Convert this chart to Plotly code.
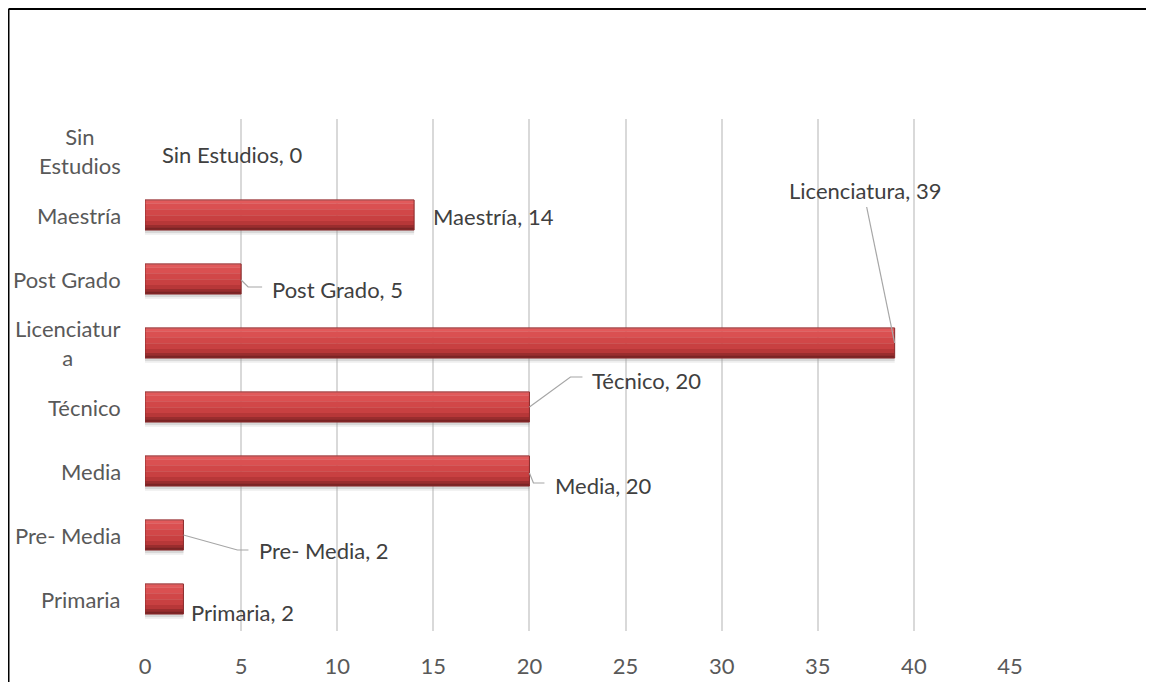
import plotly.graph_objects as go

categories = ["Primaria", "Pre- Media", "Media", "Técnico", "Licenciatura",
              "Post Grado", "Maestría", "Sin Estudios"]
tick_labels = ["Primaria", "Pre- Media", "Media", "Técnico", "Licenciatur<br>a",
               "Post Grado", "Maestría", "Sin<br>Estudios"]
values = [2, 2, 20, 20, 39, 5, 14, 0]

# label placement (pixel offsets from bar end / category centre)
label_dx = [6, 74, 24, 61, -30, 29, 17, 15]
label_dy = [-13, -15, -14, 27, 153, -10, -1, -3]
label_anchor = ["left", "left", "left", "left", "center", "left", "left", "left"]
leaders = [None,
           "M0,0 L54,-15 L65,-15",
           "M0,-2 L4,-12 L15,-12",
           "M0,0 L41,30 L53,30",
           "M0,0 L-28,136",
           "M0,-1 L7,-8 L21,-8",
           None, None]

W, H = 1154, 682
OFF = 8  # page body margin
L, T = 145 - OFF, 119 - OFF
R = W - (1010 - OFF)
B = H - (631 - OFF)
pw, ph = W - L - R, H - T - B

FONT = "Lato, Carlito, Calibri, sans-serif"
FS = 22
idx = list(range(len(categories)))

fig = go.Figure()
BW = 0.47
line_w = [0 if v == 0 else 1 for v in values]

# soft shadow below the bars
for col, extra in [("rgba(160,160,160,0.18)", 0.075), ("rgba(150,150,150,0.25)", 0.045)]:
    fig.add_trace(go.Bar(
        y=idx, x=values, orientation="h", offset=-BW / 2 - extra, width=BW,
        marker=dict(color=col, line=dict(width=0)),
        hoverinfo="skip", showlegend=False,
    ))

# vertical gradient bands (top fraction, bottom fraction, colour)
bands = [
    (0.00, 0.04, "#EC7677"),
    (0.04, 0.13, "#E25A5B"),
    (0.13, 0.32, "#DA5051"),
    (0.32, 0.52, "#D14748"),
    (0.52, 0.71, "#C84041"),
    (0.71, 0.84, "#B73738"),
    (0.84, 0.93, "#992D2E"),
    (0.93, 1.00, "#7A2425"),
]
for a, b, col in bands:
    fig.add_trace(go.Bar(
        y=idx, x=values, orientation="h",
        offset=BW / 2 - b * BW, width=(b - a) * BW + 0.004,
        marker=dict(color=col, line=dict(width=0)),
        hoverinfo="skip", showlegend=False,
    ))

# outline
fig.add_trace(go.Bar(
    y=idx, x=values, orientation="h", offset=-BW / 2, width=BW,
    marker=dict(color="rgba(0,0,0,0)", line=dict(color="#8A2A2B", width=line_w)),
    hoverinfo="skip", showlegend=False,
))

annotations = []
for i, (cat, v) in enumerate(zip(categories, values)):
    annotations.append(dict(
        x=v, y=i, xref="x", yref="y", text=f"{cat}, {v}", showarrow=False,
        xanchor=label_anchor[i], yanchor="middle",
        xshift=label_dx[i], yshift=label_dy[i],
        font=dict(family=FONT, size=FS, color="#404040"),
    ))
    annotations.append(dict(
        x=0, y=i, xref="paper", yref="y", text=tick_labels[i], showarrow=False,
        xanchor="right", yanchor="middle", align="center", xshift=-22,
        font=dict(family=FONT, size=FS, color="#595959"),
    ))

shapes = []
for i, (v, p) in enumerate(zip(values, leaders)):
    if p:
        shapes.append(dict(
            type="path", xref="x", yref="y", xsizemode="pixel", ysizemode="pixel",
            xanchor=v, yanchor=i, path=p,
            line=dict(color="#A6A6A6", width=1.2), layer="above",
        ))

# outer frame (left and top edges)
fx0 = (0.5 - L) / pw
fy_top = (H - B - 1) / ph
shapes.append(dict(type="line", xref="paper", yref="paper",
                   x0=fx0, x1=(W + 20 - L) / pw, y0=fy_top, y1=fy_top,
                   line=dict(color="black", width=2)))
shapes.append(dict(type="line", xref="paper", yref="paper",
                   x0=fx0, x1=fx0, y0=fy_top, y1=-B / ph - 0.01,
                   line=dict(color="black", width=2)))

fig.update_layout(
    width=W, height=H, barmode="overlay",
    margin=dict(l=L, r=R, t=T, b=B),
    paper_bgcolor="white", plot_bgcolor="white",
    xaxis=dict(range=[0, 45], tickvals=list(range(0, 50, 5)),
               showgrid=True, gridcolor="#D9D9D9", gridwidth=1.5,
               zeroline=False, showline=False,
               ticks="outside", ticklen=16, tickcolor="rgba(0,0,0,0)",
               tickfont=dict(family=FONT, size=FS, color="#595959")),
    yaxis=dict(range=[-0.5, 7.5], tickvals=idx, showticklabels=False,
               showgrid=False, zeroline=False, showline=False),
    annotations=annotations, shapes=shapes,
)

fig.write_html("out.html")
